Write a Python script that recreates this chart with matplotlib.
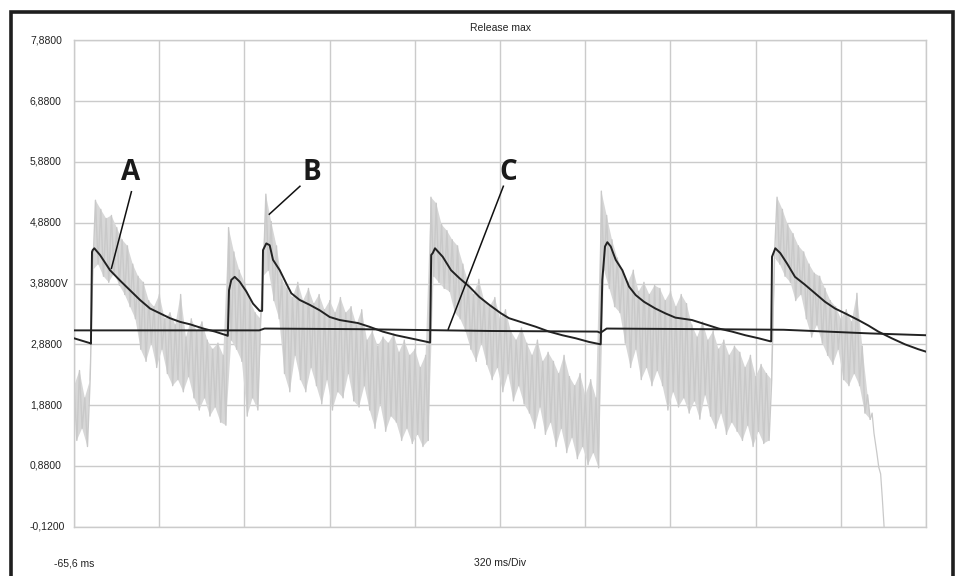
"""Oscilloscope capture: release voltage traces A, B (noisy) and C, 320 ms/Div."""

import matplotlib
matplotlib.use("Agg")
import matplotlib.pyplot as plt
import numpy as np
from matplotlib.lines import Line2D
from matplotlib.transforms import blended_transform_factory

# --------------------------------------------------------------------------- #
# Data (time in ms, voltage in V)
# --------------------------------------------------------------------------- #
T_START = -65.6
MS_PER_DIV = 320
N_DIV = 10
V_BOTTOM = -0.12
N_VDIV = 8

# trace A: smoothed envelope, sawtooth-like
A_T = [-65.6, -5.5, -2, 2, 4.6, 10.6, 32, 69.6, 107.2, 144.7, 182.3, 219.9, 257.4,
       295, 332.6, 370, 420, 464, 506.4, 512, 516.6, 525.2, 538, 556.8, 581.6,
       606.7, 631.9, 638, 641, 644.3, 656.7, 669.4, 681.8, 707, 731.8, 750.6,
       782.1, 819.7, 857.3, 894.8, 932.4, 1001.1, 1043.6, 1093.9, 1143.8, 1218.9,
       1272, 1276, 1281.7, 1290.3, 1319.3, 1350.4, 1381.6, 1419, 1456.7, 1494.2,
       1538.2, 1568.3, 1618.3, 1668.6, 1718.5, 1768.5, 1818.8, 1868.8, 1912.7,
       1918.7, 1928.8, 1937.5, 1950.2, 1969, 1993.8, 2018.9, 2044.1, 2075.3,
       2117.7, 2155.3, 2192.9, 2255.6, 2305.5, 2355.8, 2405.8, 2455.8, 2506.1,
       2549.7, 2553, 2556, 2568.4, 2587.2, 2612.4, 2642.4, 2680, 2717.6, 2755.1,
       2792.7, 2830.3, 2880.2, 2917.8, 2955.3, 3005.7, 3055.6, 3105.6, 3134.4]
A_V = [2.98, 2.90, 2.89, 4.40, 4.43, 4.46, 4.35, 4.10, 3.93, 3.77, 3.61, 3.47, 3.39,
       3.31, 3.25, 3.21, 3.14, 3.09, 3.03, 3.02, 3.77, 3.94, 3.99, 3.91, 3.75,
       3.55, 3.43, 3.43, 3.43, 4.43, 4.54, 4.51, 4.27, 4.10, 3.88, 3.72,
       3.61, 3.53, 3.44, 3.33, 3.28, 3.23, 3.17, 3.09, 3.03, 2.96,
       2.91, 4.35, 4.38, 4.46, 4.32, 4.10, 3.97, 3.83, 3.66, 3.53,
       3.39, 3.31, 3.24, 3.17, 3.09, 3.03, 2.98, 2.92, 2.88,
       3.94, 4.49, 4.56, 4.49, 4.27, 4.10, 3.83, 3.69, 3.58,
       3.47, 3.39, 3.32, 3.28, 3.21, 3.14, 3.09, 3.03, 2.98,
       2.93, 2.93, 4.32, 4.46, 4.38, 4.21, 3.99, 3.86, 3.72, 3.58,
       3.47, 3.39, 3.28, 3.19, 3.09, 2.98, 2.88, 2.80, 2.76]

# trace C: almost flat reference line
C_T = [-65.6, 300, 630, 650, 1000, 1500, 1900, 1912, 1935, 2300, 2600, 2924, 3134.4]
C_V = [3.11, 3.11, 3.11, 3.14, 3.13, 3.10, 3.09, 3.07, 3.14, 3.13, 3.12, 3.06, 3.03]

# trace B: noisy signal, sampled every 10 ms as alternating peak / trough
B_T0 = -65
B_STEP = 10
B_PEAKS = [
    2.2, 1.3, 2.45, 1.5, 2.0, 1.2, 2.3, 4.1, 5.25, 4.2,
    5.1, 4.0, 4.95, 3.9, 5.0, 4.05, 4.8, 3.85, 4.6, 3.7,
    4.5, 3.5, 4.2, 3.3, 4.0, 2.8, 3.9, 2.6, 3.6, 2.9,
    3.5, 2.5, 3.7, 2.8, 3.3, 2.4, 3.4, 2.2, 3.2, 2.3,
    3.7, 2.1, 3.0, 2.35, 3.3, 2.0, 3.1, 1.8, 3.25, 2.0,
    2.95, 1.7, 2.8, 1.85, 2.9, 1.6, 2.7, 1.55, 4.8, 2.95,
    4.4, 2.8, 4.1, 2.6, 3.9, 1.7, 3.6, 2.0, 3.4, 1.8,
    3.3, 4.0, 5.35, 4.1, 4.9, 3.6, 4.5, 3.3, 3.95, 2.4,
    3.8, 2.1, 3.65, 2.7, 3.9, 2.3, 3.6, 2.1, 3.8, 2.5,
    3.55, 2.2, 3.7, 1.9, 3.45, 2.3, 3.6, 1.8, 3.4, 2.1,
    3.65, 2.0, 3.4, 2.4, 3.5, 1.95, 3.2, 1.85, 3.45, 2.2,
    2.95, 1.8, 3.1, 1.5, 2.85, 1.9, 3.0, 1.45, 2.9, 1.7,
    3.05, 1.6, 2.75, 1.3, 2.95, 1.5, 2.7, 1.25, 2.8, 1.4,
    2.5, 1.2, 2.7, 1.3, 5.3, 4.0, 5.2, 3.9, 4.85, 3.8,
    4.75, 3.75, 4.6, 3.4, 4.5, 3.3, 4.2, 3.1, 3.9, 2.8,
    3.7, 2.6, 3.95, 2.9, 3.6, 2.55, 3.5, 2.3, 3.65, 2.5,
    3.3, 2.1, 3.45, 2.4, 3.1, 1.95, 2.95, 2.2, 3.15, 1.9,
    2.9, 1.75, 2.7, 1.5, 2.95, 1.85, 2.6, 1.4, 2.75, 1.6,
    2.6, 1.2, 2.4, 1.5, 2.7, 1.1, 2.35, 1.35, 2.2, 1.0,
    2.4, 1.2, 2.05, 0.9, 2.3, 1.1, 2.0, 0.85, 5.4, 4.1,
    5.0, 3.8, 4.6, 3.5, 4.3, 3.4, 4.1, 2.9, 3.9, 2.5,
    4.1, 2.8, 3.75, 2.3, 3.9, 2.5, 3.7, 2.2, 3.85, 2.45,
    3.8, 2.2, 3.6, 1.8, 3.75, 2.1, 3.5, 1.85, 3.7, 2.0,
    3.55, 1.75, 3.2, 1.95, 3.0, 1.65, 3.25, 2.05, 2.95, 1.7,
    3.1, 1.5, 2.8, 1.75, 2.95, 1.4, 2.7, 1.6, 2.85, 1.45,
    2.75, 1.3, 2.5, 1.55, 2.7, 1.2, 2.35, 1.45, 2.55, 1.25,
    2.4, 1.3, 2.3, 4.3, 5.3, 4.2, 5.1, 4.0, 4.85, 3.9,
    4.7, 3.6, 4.5, 3.7, 4.4, 3.3, 4.2, 3.0, 4.05, 3.2,
    4.0, 2.9, 3.8, 2.7, 3.6, 2.55, 3.5, 2.8, 3.3, 2.3,
    3.45, 2.2, 3.25, 2.4, 3.72, 2.2, 2.85, 1.75, 2.05, 1.65,
]
# B collapses at the end of the capture
B_TAIL_T = [2925, 2932, 2939, 2950, 2957, 2964, 2970, 2977]
B_TAIL_V = [1.65, 1.75, 1.42, 1.09, 0.86, 0.75, 0.37, -0.12]

# labels: (text, label position, leader line start, leader line end)
LABELS = [
    ("A", (148, 5.71), (150, 5.39), (75, 4.13)),
    ("B", (828, 5.71), (783, 5.48), (668, 5.02)),
    ("C", (1565, 5.71), (1547, 5.48), (1340, 3.13)),
]

GRID = "#cbcbcb"
TRACE_LIGHT = "#c9c9c9"
BAND_FILL = "#d7d7d7"
TRACE_DARK = "#222222"


def _volt_label(v: float) -> str:
    s = f"{v:.4f}".replace(".", ",")
    return s + "V" if abs(v - 3.88) < 1e-6 else s


def main() -> None:
    plt.rcParams["font.family"] = ["Liberation Sans", "DejaVu Sans"]
    fig = plt.figure(figsize=(9.6, 5.76), dpi=100)
    ax = fig.add_axes([74 / 960, 49.2 / 576, 852 / 960, 486.5 / 576])

    t_end = T_START + MS_PER_DIV * N_DIV
    v_top = V_BOTTOM + N_VDIV
    xticks = [T_START + MS_PER_DIV * k for k in range(N_DIV + 1)]
    yticks = [V_BOTTOM + k for k in range(N_VDIV + 1)]
    ax.set_xlim(T_START, t_end)
    ax.set_ylim(V_BOTTOM, v_top)
    ax.set_xticks(xticks)
    ax.set_yticks(yticks)
    ax.tick_params(length=0, labelleft=False, labelbottom=False)
    ax.grid(True, color=GRID, linewidth=1.0)
    ax.set_axisbelow(True)
    for sp in ax.spines.values():
        sp.set_color(GRID)
        sp.set_linewidth(1.0)

    # noisy trace B: shaded band between peaks and troughs, then the raw zigzag
    b_t = B_T0 + B_STEP * np.arange(len(B_PEAKS))
    b_v = np.array(B_PEAKS)
    hi_t, hi_v = b_t[0::2], b_v[0::2]
    lo_t, lo_v = b_t[1::2], b_v[1::2]
    ax.fill(np.concatenate([hi_t, lo_t[::-1]]), np.concatenate([hi_v, lo_v[::-1]]),
            color=BAND_FILL, linewidth=0, zorder=1.5)
    ax.plot(b_t, b_v, color=TRACE_LIGHT, linewidth=1.0, zorder=2)
    ax.plot(B_TAIL_T, B_TAIL_V, color=TRACE_LIGHT, linewidth=0.9, zorder=2)

    # dark traces
    ax.plot(C_T, C_V, color=TRACE_DARK, linewidth=1.4, zorder=3)
    ax.plot(A_T, A_V, color=TRACE_DARK, linewidth=1.4, zorder=4)

    for text, pos, p0, p1 in LABELS:
        ax.plot([p0[0], p1[0]], [p0[1], p1[1]], color="#111111", linewidth=1.1,
                zorder=5)
        ax.text(pos[0], pos[1], text, ha="center", va="center", fontsize=20,
                fontweight="bold", family=["Open Sans", "DejaVu Sans"],
                color="#1a1a1a", zorder=6)

    # y scale readout, left-aligned like the scope software
    tr = blended_transform_factory(fig.transFigure, ax.transData)
    for v in yticks:
        ax.text(30 / 960, v, _volt_label(v), transform=tr, ha="left",
                va="center", fontsize=7.5, color="#222222")

    fig.text(500 / 960, 1 - 28 / 576, "Release max", ha="center", va="center",
             fontsize=7.5, color="#222222")
    fig.text(54 / 960, 13 / 576, "-65,6 ms", ha="left", va="center",
             fontsize=7.5, color="#222222")
    fig.text(500 / 960, 13 / 576, "320 ms/Div", ha="center", va="center",
             fontsize=7.5, color="#222222")

    # heavy frame around the capture (open at the bottom, cut off)
    x0, x1, y1 = 11 / 960, 953 / 960, 1 - 11.5 / 576
    frame = Line2D([x0, x0, x1, x1], [-0.05, y1, y1, -0.05],
                   transform=fig.transFigure, color="#1e1e1e", linewidth=2.6,
                   solid_joinstyle="miter")
    fig.add_artist(frame)

    fig.savefig("out.png", dpi=100)
    plt.close(fig)


if __name__ == "__main__":
    main()
